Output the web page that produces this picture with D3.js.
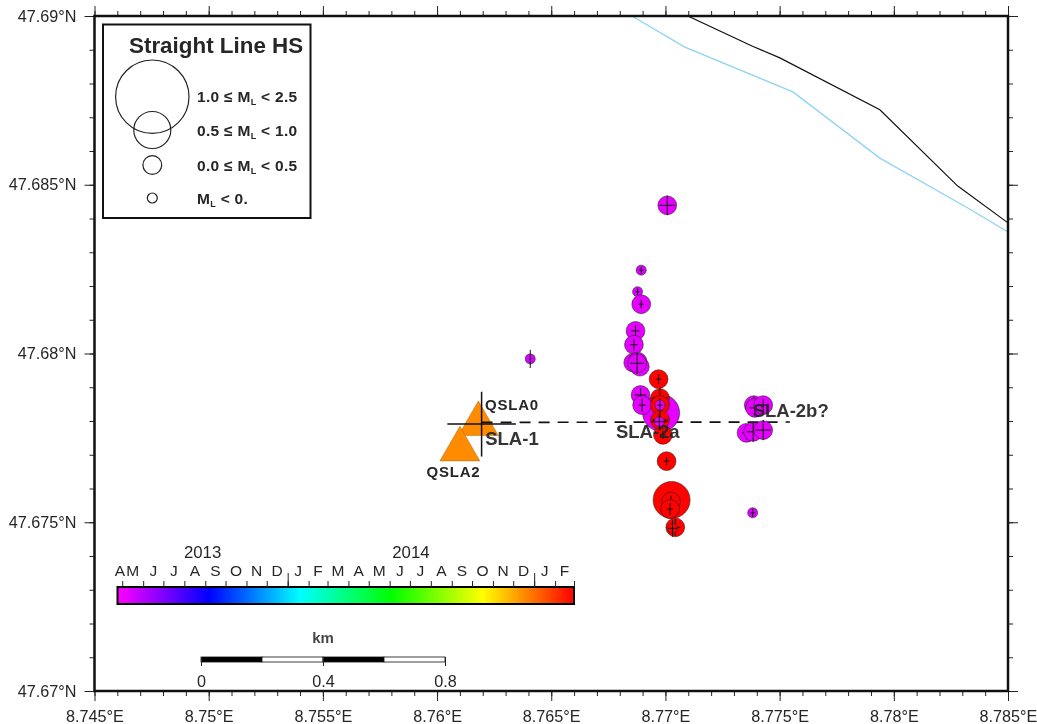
<!DOCTYPE html>
<html><head><meta charset="utf-8">
<script src="https://cdnjs.cloudflare.com/ajax/libs/d3/7.8.5/d3.min.js"></script>
<style>
html,body{margin:0;padding:0;background:#fff}
svg{display:block;filter:blur(0.5px)}
text{font-family:"Liberation Sans",Arial,sans-serif;fill:#262626}
</style></head><body>
<svg id="c" width="1037" height="724"></svg>
<script>
// ---------- data (longitude / latitude in degrees) ----------
const eventLon = [8.76981,8.77008,8.76894,8.76878,8.76894,8.76869,8.76862,8.76859,8.76878,8.76888,8.76876,8.76891,8.76898,8.77387,8.77392,8.77428,8.77355,8.77384,8.77428,8.77382,8.76408,8.7697,8.76976,8.76976,8.76976,8.76989,8.76976,8.76973,8.77005,8.77027,8.77024,8.7702,8.77043,8.77031];
const eventLat = [47.67824,47.68439,47.68247,47.68183,47.68146,47.68067,47.68026,47.67973,47.67976,47.67961,47.67971,47.67877,47.67847,47.67847,47.67839,47.67847,47.67765,47.67768,47.67773,47.67528,47.67984,47.67924,47.67868,47.67847,47.67847,47.67759,47.67803,47.67798,47.67681,47.67566,47.67561,47.67539,47.67485,47.67482];
const eventClass = [2,1,0,0,1,1,1,1,1,1,1,1,1,1,1,1,1,1,1,0,0,1,1,1,0,1,1,0,1,2,1,1,1,0];
const eventDate = ["2013-05-08","2013-05-08","2013-05-12","2013-05-12","2013-05-08","2013-05-08","2013-05-08","2013-05-08","2013-05-08","2013-05-08","2013-05-08","2013-05-08","2013-05-08","2013-05-08","2013-05-08","2013-05-08","2013-05-08","2013-05-08","2013-05-08","2013-05-12","2013-05-14","2015-02-28","2015-02-28","2015-02-28","2013-05-08","2015-02-28","2015-02-28","2013-05-08","2015-02-28","2015-02-28","2015-02-28","2015-02-28","2015-02-28","2015-02-28"];
const eventErrLon = [.00018,.00035,.00010,.00008,.00010,.00018,.00016,.00020,.00020,.00016,.00030,.00025,.00015,.00030,.00025,.00025,.00020,.00030,.00035,.00010,.00005,.00012,.00035,.00020,.00012,.00012,.00035,.00035,.00012,.00012,.00016,.00012,.00022,.00020];
const eventErrLat = [.00015,.00029,.00010,.00010,.00012,.00018,.00018,.00020,.00025,.00015,.00030,.00020,.00020,.00025,.00020,.00018,.00020,.00030,.00030,.00012,.00027,.00015,.00030,.00020,.00012,.00012,.00030,.00025,.00012,.00015,.00018,.00018,.00025,.00025];

const stationNames = ["QSLA0","QSLA2"];
const stationLon = [8.76181,8.76100];
const stationLat = [47.67791,47.67716];

const crossLon = 8.76195, crossLat = 47.67791, crossErrLon = .0015, crossErrLat = .00096;
const profileLon = [8.76195,8.77545];
const profileLat = [47.67796,47.67797];

const siteLabels = ["SLA-1","SLA-2a","SLA-2b?"];
const siteLon = [8.76211,8.76783,8.77382];
const siteLat = [47.67729,47.6775,47.67813];

const roadLon = [8.77098,8.77379,8.77501,8.77939,8.7828,8.785];
const roadLat = [47.69,47.68911,47.68876,47.68722,47.68496,47.68387];
const riverLon = [8.76853,8.77085,8.77558,8.77939,8.78324,8.785];
const riverLat = [47.69,47.68908,47.68775,47.68579,47.68431,47.6836];

const lonTicks = [8.745,8.75,8.755,8.76,8.765,8.77,8.775,8.78,8.785];
const latTicks = [47.67,47.675,47.68,47.685,47.69];
const legendTitle = "Straight Line HS";
const legendClasses = [3,2,1,0];
const legendBefore = ["1.0 ≤ M","0.5 ≤ M","0.0 ≤ M","M"];
const legendAfter = [" < 2.5"," < 1.0"," < 0.5"," < 0."];
const classRadius = [5,9.4,18.5,36.7];
const barMonths = ["A","M","J","J","A","S","O","N","D","J","F","M","A","M","J","J","A","S","O","N","D","J","F"];
const barYears = ["2013","2014"];
const barStart = "2013-04-24", barEnd = "2015-03-01";
const hueStops = ["#ff00ff","#0000ff","#00ffff","#00ff00","#ffff00","#ff0000"];
const kmTicks = [0,0.4,0.8];
const kmSegments = [0,0.2,0.4,0.6,0.8];

// ---------- scales ----------
const svg = d3.select("#c");
const W = 1037, H = 724, L = 94.5, R = 1008, T = 16, B = 691;
const x = d3.scaleLinear().domain([8.745,8.785]).range([L,R]);
const y = d3.scaleLinear().domain([47.67,47.69]).range([B,T]);
const r = d3.scaleOrdinal().domain([0,1,2,3]).range(classRadius);
const parse = d3.utcParse("%Y-%m-%d");
const t = d3.scaleUtc().domain([parse(barStart),parse(barEnd)]).range([117.5,574]);
const colorT = d3.scaleLinear()
  .domain(d3.range(hueStops.length).map(i=>+parse(barStart)+i*(parse(barEnd)-parse(barStart))/(hueStops.length-1)))
  .range(hueStops).interpolate(d3.interpolateRgb);
const km = d3.scaleLinear().domain([0,0.8]).range([201,445]);

svg.append("rect").attr("width",W).attr("height",H).attr("fill","#fff");

// ---------- map lines ----------
svg.append("clipPath").attr("id","f").append("rect").attr("x",L).attr("y",T).attr("width",R-L).attr("height",B-T);
const line = d3.line();
const plot = svg.append("g").attr("clip-path","url(#f)");
plot.append("path").attr("d",line(riverLon.map((d,i)=>[x(d),y(riverLat[i])]))).attr("fill","none").attr("stroke","#8fd3f4").attr("stroke-width",1.3);
plot.append("path").attr("d",line(roadLon.map((d,i)=>[x(d),y(roadLat[i])]))).attr("fill","none").attr("stroke","#111").attr("stroke-width",1.2);

// ---------- stations ----------
const tri = d3.symbol().type(d3.symbolTriangle).size(693);
plot.selectAll("path.st").data(stationNames).join("path").attr("class","st")
  .attr("d",tri()).attr("transform",(d,i)=>`translate(${x(stationLon[i])},${y(stationLat[i])})`)
  .attr("fill","#ff8c00").attr("stroke","#a06a20").attr("stroke-width",.5);

// ---------- profile ----------
plot.append("path").attr("d",line(profileLon.map((d,i)=>[x(d),y(profileLat[i])])))
  .attr("fill","none").attr("stroke","#111").attr("stroke-width",1.7).attr("stroke-dasharray","11 8");
plot.append("path").attr("d",`M${x(crossLon-crossErrLon)},${y(crossLat)}H${x(crossLon+crossErrLon)}M${x(crossLon)},${y(crossLat+crossErrLat)}V${y(crossLat-crossErrLat)}`)
  .attr("stroke","#111").attr("stroke-width",1.5);

// ---------- events ----------
const ev = plot.selectAll("g.ev").data(eventLon.map((d,i)=>i)).join("g").attr("class","ev");
ev.append("circle").attr("cx",i=>x(eventLon[i])).attr("cy",i=>y(eventLat[i])).attr("r",i=>r(eventClass[i]))
  .attr("fill",i=>colorT(parse(eventDate[i]))).attr("stroke","#222").attr("stroke-opacity",.8).attr("stroke-width",.7);
ev.append("path").attr("d",i=>{
  const a=x(eventLon[i]),b=y(eventLat[i]);
  return `M${x(eventLon[i]-eventErrLon[i])},${b}H${x(eventLon[i]+eventErrLon[i])}M${a},${y(eventLat[i]+eventErrLat[i])}V${y(eventLat[i]-eventErrLat[i])}`;
}).attr("stroke","#111").attr("stroke-width",1);

// ---------- labels ----------
svg.selectAll("text.site").data(siteLabels).join("text").attr("class","site")
  .attr("x",(d,i)=>x(siteLon[i])).attr("y",(d,i)=>y(siteLat[i]))
  .attr("font-size",18.5).attr("font-weight","bold").attr("opacity",.93).text(d=>d);
svg.selectAll("text.stl").data(stationNames).join("text").attr("class","stl")
  .attr("x",(d,i)=>i?426.5:485).attr("y",(d,i)=>i?477:410)
  .attr("font-size",15).attr("font-weight","bold").attr("letter-spacing",.8).text(d=>d);

// ---------- frame and axes ----------
function deg(s){return d=>d3.format(".10~f")(d)+"°"+s;}
function minor(dom,step){const n=Math.round((dom[1]-dom[0])/step);return d3.range(n+1).map(i=>dom[0]+i*step);}
const lonMinor = minor(x.domain(),0.001), latMinor = minor(y.domain(),0.001);
function axisG(ax,tx,ty){
  const g=svg.append("g").attr("transform",`translate(${tx},${ty})`).call(ax);
  g.select(".domain").remove();
  g.selectAll("line").attr("stroke","#222").attr("stroke-width",1);
  g.selectAll("text").attr("font-size",16.2).attr("font-family",'"Liberation Sans",Arial,sans-serif').attr("fill","#333");
  return g;
}
axisG(d3.axisBottom(x).tickValues(lonMinor).tickSize(5).tickFormat(""),0,B);
axisG(d3.axisTop(x).tickValues(lonMinor).tickSize(5).tickFormat(""),0,T);
axisG(d3.axisLeft(y).tickValues(latMinor).tickSize(5).tickFormat(""),L,0);
axisG(d3.axisRight(y).tickValues(latMinor).tickSize(5).tickFormat(""),R,0);
axisG(d3.axisBottom(x).tickValues(lonTicks).tickSize(10).tickPadding(9).tickFormat(deg("E")),0,B);
axisG(d3.axisTop(x).tickValues(lonTicks).tickSize(10).tickFormat(""),0,T);
axisG(d3.axisLeft(y).tickValues(latTicks).tickSize(10).tickPadding(8).tickFormat(deg("N")),L,0);
axisG(d3.axisRight(y).tickValues(latTicks).tickSize(10).tickFormat(""),R,0);
svg.append("rect").attr("x",L).attr("y",T).attr("width",R-L).attr("height",B-T).attr("fill","none").attr("stroke","#111").attr("stroke-width",2.5);

// ---------- legend ----------
const leg = svg.append("g");
leg.append("rect").attr("x",103).attr("y",24.5).attr("width",207.5).attr("height",193.5).attr("fill","#fff").attr("stroke","#111").attr("stroke-width",2);
leg.append("text").attr("x",129).attr("y",53).attr("font-size",22.4).attr("font-weight","bold").text(legendTitle);
const legendY = [96.7,130,165,198], legendTextY = [102,136,171,204];
legendClasses.forEach((c,i)=>{
  leg.append("circle").attr("cx",152.3).attr("cy",legendY[i]).attr("r",r(c)).attr("fill","none").attr("stroke","#222").attr("stroke-width",1.2);
  const tx=leg.append("text").attr("x",197).attr("y",legendTextY[i]).attr("font-size",15.5).attr("font-weight","bold").attr("letter-spacing",.3);
  tx.append("tspan").text(legendBefore[i]);
  tx.append("tspan").attr("font-size",9).attr("dy",3).text("L");
  tx.append("tspan").attr("dy",-3).text(legendAfter[i]);
});

// ---------- colour bar ----------
const defs = svg.append("defs");
const grad = defs.append("linearGradient").attr("id","hue");
hueStops.forEach((c,i)=>grad.append("stop").attr("offset",i/(hueStops.length-1)).attr("stop-color",c));
const barTop = 587, barH = 17;
svg.append("rect").attr("x",t.range()[0]).attr("y",barTop).attr("width",t.range()[1]-t.range()[0]).attr("height",barH)
  .attr("fill","url(#hue)").attr("stroke","#000").attr("stroke-width",2);
const monthEdges = d3.utcMonth.range(parse(barStart),parse(barEnd)).concat([parse(barEnd)]);
axisG(d3.axisTop(t).tickValues(monthEdges).tickSize(6).tickFormat(""),0,barTop);
axisG(d3.axisTop(t).tickValues(d3.utcYear.range(parse(barStart),parse(barEnd))).tickSize(14).tickFormat(""),0,barTop);
const allEdges = [parse(barStart)].concat(monthEdges);
svg.selectAll("text.mon").data(barMonths).join("text").attr("class","mon")
  .attr("x",(d,i)=>(t(allEdges[i])+t(allEdges[i+1]))/2).attr("y",576).attr("text-anchor","middle")
  .attr("font-size",15.5).attr("fill","#333").text(d=>d);
const yearEdges = [parse(barStart),parse("2014-01-01"),parse("2015-01-01")];
svg.selectAll("text.yr").data(barYears).join("text").attr("class","yr")
  .attr("x",(d,i)=>(t(yearEdges[i])+t(yearEdges[i+1]))/2).attr("y",558).attr("text-anchor","middle")
  .attr("font-size",16.8).attr("fill","#333").text(d=>d);

// ---------- scale bar ----------
const barY = 657, segH = 5;
svg.selectAll("rect.km").data(kmSegments.slice(0,-1)).join("rect").attr("class","km")
  .attr("x",d=>km(d)).attr("y",barY).attr("width",(d,i)=>km(kmSegments[i+1])-km(d)).attr("height",segH)
  .attr("fill",(d,i)=>i%2?"#fff":"#000").attr("stroke","#111").attr("stroke-width",.8);
axisG(d3.axisBottom(km).tickValues(kmTicks).tickSize(9).tickPadding(9).tickFormat(d=>d),0,barY);
svg.append("text").attr("x",km(0.4)).attr("y",643).attr("text-anchor","middle").attr("font-size",15).attr("font-weight","bold").attr("opacity",.85).text("km");
</script>
</body></html>
